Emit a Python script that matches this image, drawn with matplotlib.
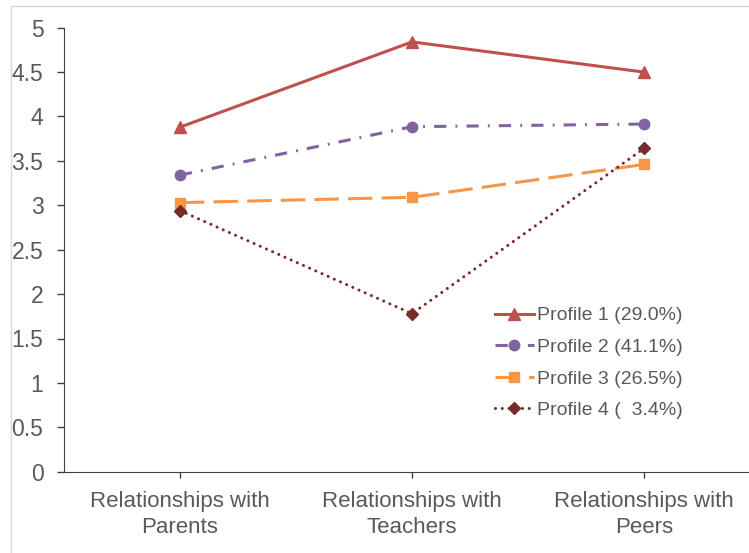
import matplotlib
matplotlib.use("Agg")
import matplotlib.pyplot as plt
from matplotlib.patches import Rectangle

categories = ["Relationships with\nParents", "Relationships with\nTeachers", "Relationships with\nPeers"]
profile_labels = ["Profile 1 (29.0%)", "Profile 2 (41.1%)", "Profile 3 (26.5%)", "Profile 4 (  3.4%)"]
profile1 = [3.88, 4.84, 4.50]
profile2 = [3.34, 3.885, 3.915]
profile3 = [3.03, 3.09, 3.46]
profile4 = [2.94, 1.78, 3.64]
yticks = [0, 0.5, 1, 1.5, 2, 2.5, 3, 3.5, 4, 4.5, 5]
ytick_labels = ["0", "0.5", "1", "1.5", "2", "2.5", "3", "3.5", "4", "4.5", "5"]

plt.rcParams['font.family'] = ['Liberation Sans', 'DejaVu Sans']
W, H = 749, 553
fig = plt.figure(figsize=(W/100, H/100), dpi=100)
fig.patches.append(Rectangle((11/W, -0.05), 1.1, (H-6)/H + 0.05, transform=fig.transFigure,
                             fill=False, edgecolor='#D9D9D9', linewidth=1.0))

left, right = 64, 760
bottom, top = 471.7, 27.7
ax = fig.add_axes([left/W, 1-bottom/H, (right-left)/W, (bottom-top)/H])

x = range(len(categories))
series = [
    ('#C0504D', '^', 8.5, '-', None, 2.2),
    ('#8064A2', 'o', 7.5, (0, (4, 3, 0.6, 3)), None, 2.2),
    ('#F79646', 's', 7, (0, (8, 3)), None, 2.2),
    ('#772C2A', 'D', 6, (0, (0.01, 2.2)), 'round', 2.2),
]
for vals, lab, (c, m, ms, ls, cap, lw) in zip([profile1, profile2, profile3, profile4], profile_labels, series):
    line, = ax.plot(list(x), vals, color=c, marker=m, markersize=ms, linestyle=ls,
                    linewidth=lw, label=lab, markeredgecolor=c, markerfacecolor=c)
    if cap:
        line.set_dash_capstyle(cap)

ax.set_xlim(-0.5, 2.5)
ax.set_ylim(0, 5)
ax.set_yticks(yticks)
ax.set_yticklabels(ytick_labels)
ax.set_xticks(list(x))
ax.set_xticklabels(categories)
for s in ['top', 'right']:
    ax.spines[s].set_visible(False)
ax.spines['left'].set_color('#404040')
ax.spines['bottom'].set_color('#404040')
ax.tick_params(axis='y', length=4.8, width=1, color='#404040', labelsize=16.5, labelcolor='#595959', pad=10)
ax.tick_params(axis='x', length=4, width=1, color='#404040', labelsize=16, labelcolor='#595959', pad=10)
for t in ax.get_xticklabels():
    t.set_linespacing(1.3)

leg = ax.legend(loc='upper left', bbox_to_anchor=((487-left)/(right-left), (bottom-299)/(bottom-top)),
                frameon=False, fontsize=14, handlelength=2.0, handletextpad=0.15,
                labelspacing=0.72, borderaxespad=0, labelcolor='#595959')

fig.savefig("out.png", dpi=100)
